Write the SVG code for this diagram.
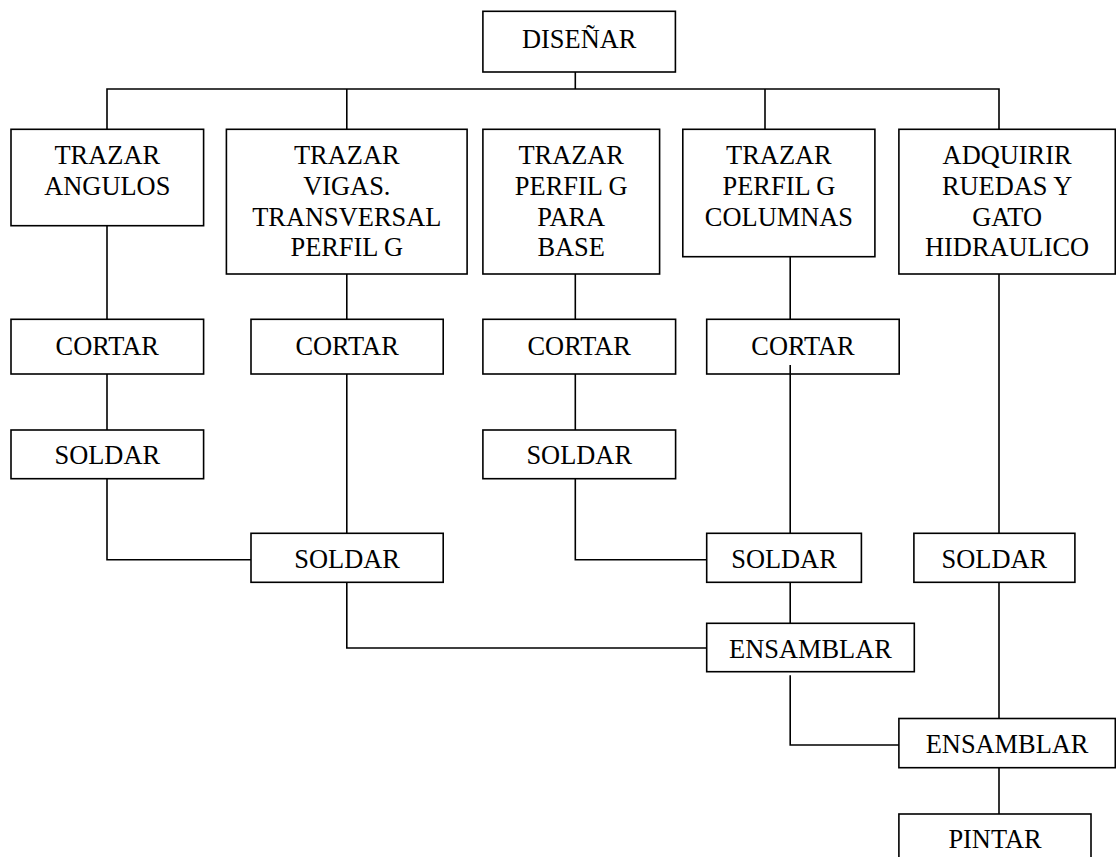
<svg xmlns="http://www.w3.org/2000/svg" width="1116" height="857" viewBox="0 0 1116 857">
  <style>
    .box { fill: #ffffff; stroke: #000000; stroke-width: 1.6; }
    .lbl { font-family: "Liberation Serif", "Times New Roman", serif; font-size: 26.4px; fill: #000000; text-anchor: middle; }
    .wire { fill: none; stroke: #000000; stroke-width: 1.6; }
  </style>
  <rect width="1116" height="857" fill="#ffffff"/>

  <g id="n-disenar">
    <rect class="box" x="482.9" y="11.3" width="192.5" height="60.7"/>
    <text class="lbl" x="579.2" y="47.7">DISEÑAR</text>
  </g>

  <g id="n-trazar-angulos">
    <rect class="box" x="11" y="129.3" width="192.6" height="96.4"/>
    <text class="lbl" x="107.3" y="164.3">TRAZAR</text>
    <text class="lbl" x="107.3" y="195.3">ANGULOS</text>
  </g>

  <g id="n-trazar-vigas">
    <rect class="box" x="226.4" y="129.3" width="240.7" height="144.7"/>
    <text class="lbl" x="346.8" y="164.3">TRAZAR</text>
    <text class="lbl" x="346.8" y="195.3">VIGAS.</text>
    <text class="lbl" x="346.8" y="226">TRANSVERSAL</text>
    <text class="lbl" x="346.8" y="256.3">PERFIL G</text>
  </g>

  <g id="n-trazar-base">
    <rect class="box" x="482.9" y="129.3" width="176.7" height="144.7"/>
    <text class="lbl" x="571.2" y="164.3">TRAZAR</text>
    <text class="lbl" x="571.2" y="195.3">PERFIL G</text>
    <text class="lbl" x="571.2" y="226">PARA</text>
    <text class="lbl" x="571.2" y="256.3">BASE</text>
  </g>

  <g id="n-trazar-columnas">
    <rect class="box" x="682.8" y="129.3" width="192.1" height="127.4"/>
    <text class="lbl" x="778.9" y="164.3">TRAZAR</text>
    <text class="lbl" x="778.9" y="195.3">PERFIL G</text>
    <text class="lbl" x="778.9" y="226">COLUMNAS</text>
  </g>

  <g id="n-adquirir">
    <rect class="box" x="898.9" y="129.3" width="216.4" height="144.7"/>
    <text class="lbl" x="1007.1" y="164.3">ADQUIRIR</text>
    <text class="lbl" x="1007.1" y="195.3">RUEDAS Y</text>
    <text class="lbl" x="1007.1" y="226">GATO</text>
    <text class="lbl" x="1007.1" y="256.3">HIDRAULICO</text>
  </g>

  <g id="n-cortar-1">
    <rect class="box" x="11" y="319.3" width="192.6" height="54.7"/>
    <text class="lbl" x="107.3" y="355">CORTAR</text>
  </g>
  <g id="n-cortar-2">
    <rect class="box" x="251" y="319.3" width="192.2" height="54.7"/>
    <text class="lbl" x="347.1" y="355">CORTAR</text>
  </g>
  <g id="n-cortar-3">
    <rect class="box" x="482.9" y="319.3" width="192.7" height="54.7"/>
    <text class="lbl" x="579.2" y="355">CORTAR</text>
  </g>
  <g id="n-cortar-4">
    <rect class="box" x="706.7" y="319.3" width="192.5" height="54.7"/>
    <text class="lbl" x="803" y="355">CORTAR</text>
  </g>

  <g id="n-soldar-1">
    <rect class="box" x="11" y="430" width="192.6" height="48.7"/>
    <text class="lbl" x="107.3" y="464">SOLDAR</text>
  </g>
  <g id="n-soldar-3">
    <rect class="box" x="482.9" y="430" width="192.7" height="48.7"/>
    <text class="lbl" x="579.2" y="464">SOLDAR</text>
  </g>

  <g id="n-soldar-a">
    <rect class="box" x="251" y="533.3" width="192.2" height="49"/>
    <text class="lbl" x="347.1" y="568.3">SOLDAR</text>
  </g>
  <g id="n-soldar-b">
    <rect class="box" x="706.7" y="533.3" width="154.7" height="49"/>
    <text class="lbl" x="784" y="568.3">SOLDAR</text>
  </g>
  <g id="n-soldar-c">
    <rect class="box" x="913.9" y="533.3" width="161" height="49"/>
    <text class="lbl" x="994.4" y="568.3">SOLDAR</text>
  </g>

  <g id="n-ensamblar-1">
    <rect class="box" x="706.7" y="623.3" width="207.6" height="48.4"/>
    <text class="lbl" x="810.5" y="657.7">ENSAMBLAR</text>
  </g>
  <g id="n-ensamblar-2">
    <rect class="box" x="898.9" y="718.5" width="216.4" height="49.2"/>
    <text class="lbl" x="1007.1" y="753.3">ENSAMBLAR</text>
  </g>

  <g id="n-pintar">
    <rect class="box" x="898.9" y="814" width="192.1" height="60"/>
    <text class="lbl" x="995" y="848.3">PINTAR</text>
  </g>

  <!-- connectors, drawn over the boxes so the stub inside CORTAR (columnas) shows -->
  <g id="connectors" class="wire">
    <!-- DISEÑAR to first row -->
    <path d="M575.3 72 V89"/>
    <path d="M107 129.3 V89 H999 V129.3"/>
    <path d="M346.8 89 V129.3"/>
    <path d="M765 89 V129.3"/>
    <!-- column 1 -->
    <path d="M107 225.7 V319.3"/>
    <path d="M107 374 V430"/>
    <path d="M107 478.7 V559.7 H251"/>
    <!-- column 2 -->
    <path d="M346.8 274 V319.3"/>
    <path d="M346.8 374 V533.3"/>
    <path d="M346.8 582.3 V648 H706.7"/>
    <!-- column 3 -->
    <path d="M575.3 274 V319.3"/>
    <path d="M575.3 374 V430"/>
    <path d="M575.3 478.7 V559.7 H706.7"/>
    <!-- column 4 -->
    <path d="M790.2 256.7 V319.3"/>
    <path d="M790.2 365 V533.3"/>
    <path d="M790.2 582.3 V623.3"/>
    <path d="M790.2 675.3 V745 H898.9"/>
    <!-- column 5 -->
    <path d="M999 274 V533.3"/>
    <path d="M999 582.3 V718.5"/>
    <path d="M999 767.7 V814"/>
  </g>
</svg>
